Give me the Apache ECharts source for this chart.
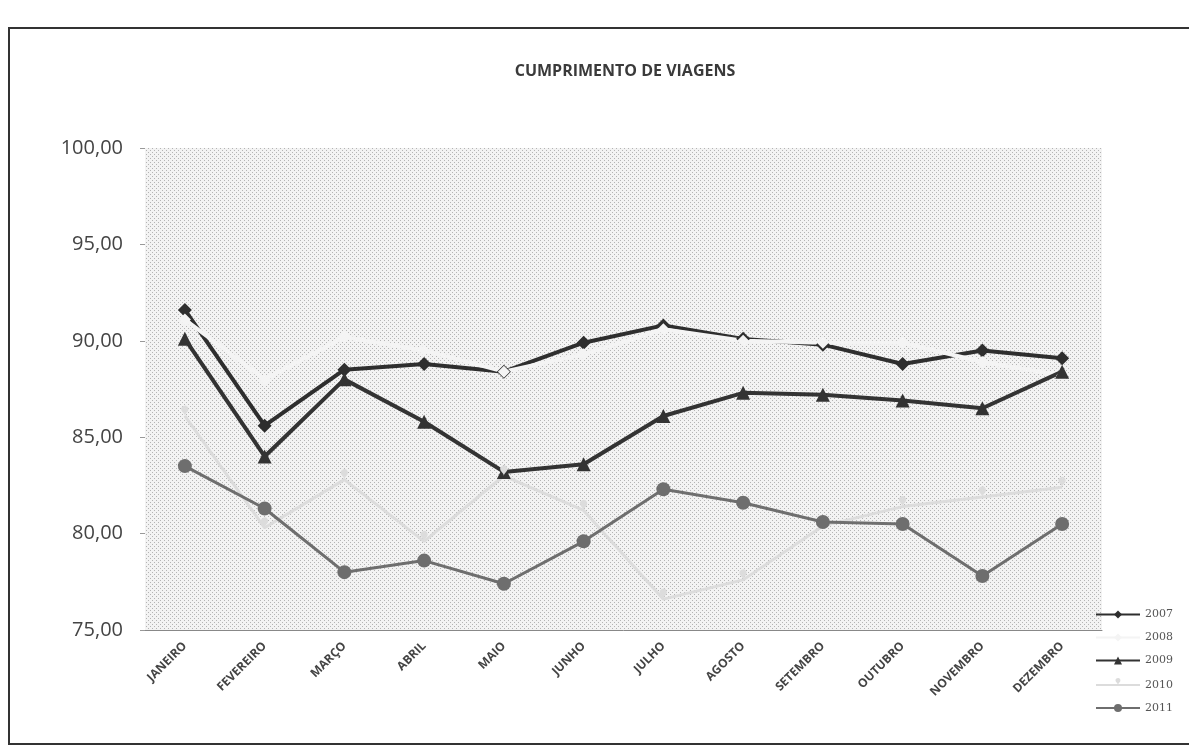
<!DOCTYPE html>
<html>
<head>
<meta charset="utf-8">
<script src="https://cdn.jsdelivr.net/npm/echarts@6/dist/echarts.min.js"></script>
<style>
  html, body { margin: 0; padding: 0; background: #fff; }
  #chart { width: 1189px; height: 747px; }
</style>
</head>
<body>
<div id="chart"></div>
<script>
const months = ['JANEIRO', 'FEVEREIRO', 'MARÇO', 'ABRIL', 'MAIO', 'JUNHO',
  'JULHO', 'AGOSTO', 'SETEMBRO', 'OUTUBRO', 'NOVEMBRO', 'DEZEMBRO'];
const years = ['2007', '2008', '2009', '2010', '2011'];

const v2007 = [91.6, 85.6, 88.5, 88.8, 88.4, 89.9, 90.8, 90.1, 89.8, 88.8, 89.5, 89.1];
const v2008 = [91.1, 88.0, 90.2, 89.5, 88.4, 89.3, 90.6, 90.0, 89.9, 89.9, 88.9, 88.2];
const v2009 = [90.1, 84.0, 88.0, 85.8, 83.2, 83.6, 86.1, 87.3, 87.2, 86.9, 86.5, 88.4];
const v2010 = [86.1, 80.3, 82.8, 79.6, 83.0, 81.2, 76.6, 77.6, 80.4, 81.4, 81.9, 82.4];
const v2011 = [83.5, 81.3, 78.0, 78.6, 77.4, 79.6, 82.3, 81.6, 80.6, 80.5, 77.8, 80.5];

// fundo pontilhado da área do gráfico
const dots = document.createElement('canvas');
dots.width = 4; dots.height = 4;
const dctx = dots.getContext('2d');
dctx.fillStyle = '#f3f3f3';
dctx.fillRect(0, 0, 4, 4);
dctx.fillStyle = '#b4b4b4';
dctx.fillRect(0, 0, 1, 1);
dctx.fillRect(2, 2, 1, 1);

const chart = echarts.init(document.getElementById('chart'));

function serie(name, data, color, width, symbol, size) {
  return {
    name: name,
    type: 'line',
    data: data,
    symbol: symbol,
    symbolSize: size,
    lineStyle: { color: color, width: width },
    itemStyle: { color: color },
    z: 3
  };
}

chart.setOption({
  animation: false,
  backgroundColor: '#fff',
  textStyle: { fontFamily: '"Open Sans", "DejaVu Sans", sans-serif' },
  title: {
    text: 'CUMPRIMENTO DE VIAGENS',
    left: 620,
    top: 58,
    textAlign: 'center',
    textStyle: { fontSize: 16, fontWeight: 'bold', color: '#3a3a3a' }
  },
  graphic: [{
    type: 'rect',
    shape: { x: 9, y: 28, width: 1200, height: 716 },
    style: { fill: 'none', stroke: '#333', lineWidth: 2 },
    silent: true
  }],
  grid: {
    left: 145, right: 87, top: 148, bottom: 117,
    show: true,
    backgroundColor: { image: dots, repeat: 'repeat' },
    borderWidth: 0
  },
  legend: {
    orient: 'vertical',
    left: 1090,
    top: 604,
    itemWidth: 44,
    itemHeight: 10,
    itemGap: 12,
    data: years,
    textStyle: { fontSize: 11, color: '#555', fontFamily: '"DejaVu Serif", serif' }
  },
  xAxis: {
    type: 'category',
    data: months,
    boundaryGap: true,
    axisLine: { show: true, lineStyle: { color: '#888', width: 1 } },
    axisTick: { show: false },
    axisLabel: {
      rotate: 45,
      fontSize: 12,
      fontWeight: 'bold',
      color: '#444',
      margin: 14,
      interval: 0
    }
  },
  yAxis: {
    type: 'value',
    min: 75,
    max: 100,
    interval: 5,
    splitLine: { show: false },
    axisLine: { show: false },
    axisTick: { show: true, length: 5, lineStyle: { color: '#999' } },
    axisLabel: {
      fontSize: 20,
      color: '#444',
      margin: 22,
      formatter: function (val) { return val.toFixed(2).replace('.', ','); }
    }
  },
  series: [
    serie('2007', v2007, '#2e2e2e', 4, 'diamond', 14),
    serie('2008', v2008, '#f4f4f4', 4, 'diamond', 12),
    serie('2009', v2009, '#333333', 4, 'triangle', 14),
    serie('2010', v2010, '#dcdcdc', 3, 'pin', 12),
    serie('2011', v2011, '#6e6e6e', 3, 'circle', 14)
  ]
});
</script>
</body>
</html>
